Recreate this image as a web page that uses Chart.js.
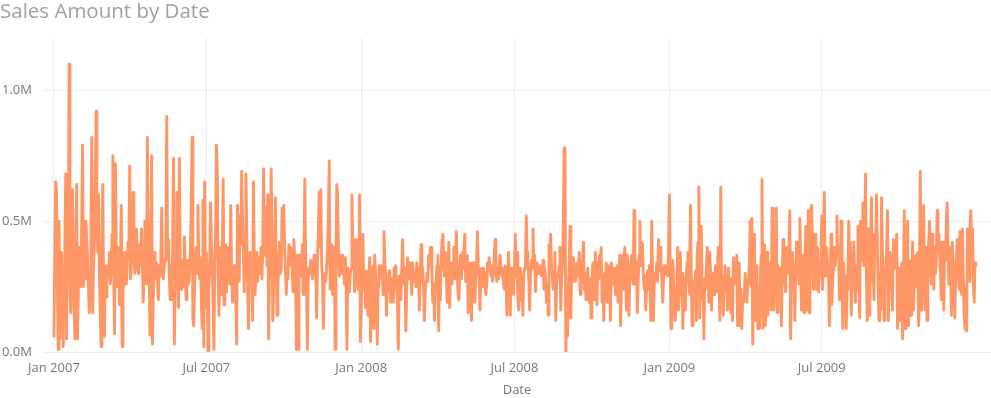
<!DOCTYPE html>
<html><head><meta charset="utf-8">
<script src="https://cdn.jsdelivr.net/npm/chart.js@4/dist/chart.umd.min.js"></script>
<style>html,body{margin:0;padding:0;background:#fff;}#wrap{width:991px;height:398px;}</style>
</head><body><div id="wrap"><canvas id="c" width="991" height="398"></canvas></div>
<script>
// Daily sales amount, in thousands, one value per day starting 1 Jan of each year
const sales2007 = [
60,350,650,620,300,10,500,50,200,380,
240,20,300,420,680,50,670,300,1100,230,
150,380,620,300,150,50,380,640,50,250,
400,320,250,500,790,250,330,280,500,420,
350,250,150,280,500,820,150,330,400,620,
920,500,380,600,300,150,20,350,640,250,
60,330,210,280,330,320,380,260,320,450,
750,300,70,720,400,250,400,300,180,350,
560,20,380,250,300,380,260,330,420,380,
710,280,330,420,610,380,300,360,470,340,
300,380,410,330,470,350,190,320,500,380,
260,820,420,350,65,320,750,30,210,380,
330,280,340,260,200,330,290,370,550,310,
280,330,350,420,900,360,430,300,200,330,
200,380,740,30,260,350,610,300,170,740,
330,240,290,350,250,440,310,200,300,350,
260,300,380,520,820,130,100,260,350,400,
300,560,350,280,360,200,90,580,20,650,
170,380,290,5,260,300,570,420,330,200,
10,340,450,790,690,300,140,310,400,220,
380,660,180,300,410,230,350,400,300,260,
560,320,190,330,280,330,200,30,560,380,
270,520,410,690,500,380,230,420,680,470,
260,90,320,380,270,310,120,650,350,220,
320,380,270,360,300,320,400,280,380,700,
420,370,550,330,600,50,300,470,700,450,
120,280,320,590,330,140,240,350,420,300,
320,550,420,560,400,300,220,330,280,410,
330,400,380,310,230,430,350,290,10,370,
10,300,370,330,290,410,220,380,660,350,
290,10,280,320,300,350,330,280,320,370,
300,320,130,350,460,610,400,620,330,290,
90,260,300,270,330,400,520,730,240,330,
410,220,310,400,10,380,640,590,380,290,
370,330,300,370,320,260,360,280,10,320,
280,230,300,320,600,380,430,230,350,430,
330,240,250,600,40
];
const sales2008 = [
150,330,450,240,300,170,310,240,140,270,
360,40,200,280,330,90,370,300,240,30,
250,330,280,330,330,300,220,460,350,290,
140,260,230,310,280,190,250,280,190,320,
290,330,240,190,10,290,250,200,300,430,
320,260,320,80,250,360,310,280,340,290,
220,340,300,270,290,250,340,310,280,160,
300,410,270,320,240,120,230,270,300,270,
370,330,400,400,300,190,260,120,240,280,
330,370,80,320,200,350,430,450,330,290,
380,320,190,300,420,170,280,340,260,330,
400,280,330,460,310,220,200,300,370,280,
380,320,390,450,270,330,370,150,300,340,
250,120,340,290,340,190,280,340,460,330,
290,160,280,320,250,320,300,260,220,260,
340,320,360,310,290,330,270,300,360,430,
320,270,320,280,340,370,310,290,320,260,
240,330,300,140,280,380,250,140,320,260,
290,220,330,450,290,380,200,160,260,320,
200,280,140,300,320,320,520,380,330,280,
160,290,350,320,470,330,370,230,310,340,
300,330,330,310,290,320,350,240,320,280,
190,260,140,410,350,450,320,280,240,310,
380,120,250,290,290,330,400,160,280,330,
500,780,770,0,150,60,240,330,480,130,
300,270,360,300,270,310,340,320,290,380,
220,300,260,350,420,240,300,200,290,320,
240,190,280,130,250,340,330,200,380,300,
180,340,280,370,310,400,190,280,120,300,
260,340,190,270,330,250,120,340,300,260,
290,320,220,280,330,190,300,370,100,250,
370,240,310,400,280,160,370,300,140,290,
330,370,300,260,540,260,350,320,150,280,
370,500,330,420,410,300,240,290,160,260,
310,240,330,250,120,500,280,120,260,300,
290,340,270,430,310,400,330,290,190,280,
330,330,300,330,290,380
];
const sales2009 = [
600,320,90,120,350,270,200,120,220,300,
400,160,280,380,220,300,90,280,240,160,
290,340,380,300,220,560,300,100,230,270,
240,310,120,370,420,630,130,280,480,200,
260,50,280,240,330,400,300,190,380,290,
160,300,260,220,290,330,230,300,400,280,
120,630,230,290,140,270,330,230,280,160,
320,270,240,150,280,120,360,290,320,260,
370,100,250,340,100,240,90,200,190,220,
300,230,190,250,280,330,500,250,510,30,
300,450,120,330,280,90,250,90,270,370,
660,90,300,410,100,260,380,140,290,340,
250,160,550,300,160,340,280,550,150,330,
300,250,320,100,290,430,320,280,230,400,
300,320,390,540,50,270,380,290,330,120,
300,420,420,330,260,510,280,160,370,300,
150,330,480,160,350,540,150,320,550,560,
380,240,330,450,240,310,400,230,290,340,
380,520,240,360,610,290,330,400,320,290,
100,260,450,180,280,320,400,330,400,520,
360,400,200,330,500,280,90,340,250,290,
90,240,300,500,350,420,140,260,290,420,
300,190,330,240,480,300,130,500,350,410,
570,330,420,680,300,120,470,300,140,380,
590,270,330,200,450,380,600,400,250,120,
300,160,590,380,300,120,250,290,380,540,
120,280,380,320,270,160,430,350,320,380,
450,90,250,320,120,280,340,50,300,540,
90,280,120,500,100,350,290,140,300,420,
160,280,340,370,250,380,100,330,690,160,
280,320,560,300,160,400,120,330,420,500,
350,260,450,330,240,400,300,340,540,380,
450,380,300,200,420,330,160,420,350,500,
570,380,260,400,300,140,420,330,280,130,
300,370,430,330,240,460,350,220,470,300,
160,90,250,80,470,350,270,470,540,400,
470,270,190,340,330
];
const xTickLabels = ['Jan 2007','Jul 2007','Jan 2008','Jul 2008','Jan 2009','Jul 2009'];
const yTickValues = [0, 500000, 1000000];

const MONTHS = {Jan:0,Feb:1,Mar:2,Apr:3,May:4,Jun:5,Jul:6,Aug:7,Sep:8,Oct:9,Nov:10,Dec:11};
const DAY = 86400000;
const origin = Date.UTC(2007,0,1);
function labelToDay(lbl){ const p = lbl.split(' '); return Math.round((Date.UTC(+p[1], MONTHS[p[0]], 1) - origin)/DAY); }
const xTickDays = xTickLabels.map(labelToDay);

const yearly = [[2007, sales2007],[2008, sales2008],[2009, sales2009]];
const points = [];
yearly.forEach(([yr, arr]) => {
  arr.forEach((v, i) => {
    const d = Math.round((Date.UTC(yr, 0, 1 + i) - origin)/DAY);
    points.push({x: d, y: v * 1000});
  });
});
const lastDay = points[points.length-1].x;

const FONT = "'Open Sans', 'Noto Sans', sans-serif";
new Chart(document.getElementById('c').getContext('2d'), {
  type: 'line',
  data: { datasets: [{
    data: points,
    borderColor: '#FE9666',
    borderWidth: 2.9,
    pointRadius: 0,
    tension: 0,
    fill: false,
    borderJoinStyle: 'round',
    borderCapStyle: 'round'
  }]},
  options: {
    responsive: false,
    animation: false,
    events: [],
    layout: { padding: { left: 0, right: 0, top: 0, bottom: 0 } },
    plugins: {
      legend: { display: false },
      tooltip: { enabled: false },
      title: {
        display: true, text: 'Sales Amount by Date', align: 'start',
        color: '#9f9f9f',
        font: { family: FONT, size: 20.5, weight: 'normal', lineHeight: 1.2 },
        padding: { top: 0, bottom: 13.4 }
      }
    },
    scales: {
      x: {
        type: 'linear',
        min: -13,
        max: lastDay + 18,
        grid: { color: '#ececec', lineWidth: 1, drawTicks: false },
        border: { display: false },
        afterBuildTicks: s => { s.ticks = xTickDays.map(v => ({ value: v })); },
        ticks: {
          autoSkip: false, maxRotation: 0, minRotation: 0, padding: 8,
          color: '#777777', font: { family: FONT, size: 13 },
          callback: (v, i) => xTickLabels[i]
        },
        title: { display: true, text: 'Date', color: '#777777',
          font: { family: FONT, size: 13 }, padding: { top: 4, bottom: 0 } },
        afterFit: s => { s.height = 46; }
      },
      y: {
        min: 0, max: 1200000,
        grid: { color: '#ececec', lineWidth: 1, drawTicks: false },
        border: { display: false },
        afterBuildTicks: s => { s.ticks = yTickValues.map(v => ({ value: v })); },
        ticks: {
          padding: 11, color: '#777777', font: { family: FONT, size: 13 },
          callback: v => (v / 1e6).toFixed(1) + 'M'
        },
        afterFit: s => { s.width = 43; }
      }
    }
  }
});
</script>
</body></html>
